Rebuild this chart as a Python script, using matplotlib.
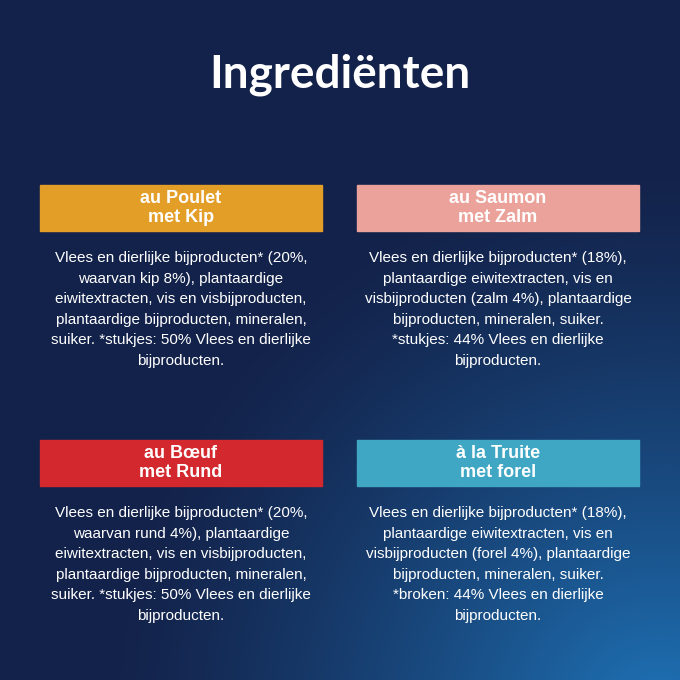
import numpy as np
import matplotlib.pyplot as plt
from matplotlib.patches import Rectangle

title = "Ingrediënten"
headers = ["au Poulet\nmet Kip", "au Saumon\nmet Zalm", "au Bœuf\nmet Rund", "à la Truite\nmet forel"]
header_colors = ["#E39E28", "#EBA29B", "#D3282E", "#3FA7C4"]
bodies = [
    "Vlees en dierlijke bijproducten* (20%,\nwaarvan kip 8%), plantaardige\neiwitextracten, vis en visbijproducten,\nplantaardige bijproducten, mineralen,\nsuiker. *stukjes: 50% Vlees en dierlijke\nbijproducten.",
    "Vlees en dierlijke bijproducten* (18%),\nplantaardige eiwitextracten, vis en\nvisbijproducten (zalm 4%), plantaardige\nbijproducten, mineralen, suiker.\n*stukjes: 44% Vlees en dierlijke\nbijproducten.",
    "Vlees en dierlijke bijproducten* (20%,\nwaarvan rund 4%), plantaardige\neiwitextracten, vis en visbijproducten,\nplantaardige bijproducten, mineralen,\nsuiker. *stukjes: 50% Vlees en dierlijke\nbijproducten.",
    "Vlees en dierlijke bijproducten* (18%),\nplantaardige eiwitextracten, vis en\nvisbijproducten (forel 4%), plantaardige\nbijproducten, mineralen, suiker.\n*broken: 44% Vlees en dierlijke\nbijproducten.",
]
box_x = [40, 357, 40, 357]
box_y = [185, 185, 440, 440]

fig = plt.figure(figsize=(6.8, 6.8), dpi=100)
ax = fig.add_axes([0, 0, 1, 1])
ax.set_xlim(0, 680)
ax.set_ylim(680, 0)
ax.axis("off")

# background: dark navy with lighter blue glow in the lower right
yy, xx = np.mgrid[0:680, 0:680]
d = np.clip(1 - np.hypot(xx - 660, yy - 720) / 560, 0, 1) ** 1.3
dark = np.array([0x13, 0x22, 0x4A]) / 255
light = np.array([0x1F, 0x74, 0xB8]) / 255
img = dark * (1 - d[..., None]) + light * d[..., None]
ax.imshow(img, extent=(0, 680, 680, 0), zorder=0)

ax.text(340, 75, title, color="white", fontsize=33, fontweight="bold",
        ha="center", va="center", family="Lato")

for i in range(4):
    ax.add_patch(Rectangle((box_x[i], box_y[i]), 282, 46, color=header_colors[i], zorder=1))
    ax.text(box_x[i] + 141, box_y[i] + 23, headers[i], color="white",
            fontsize=13, fontweight="bold", ha="center", va="center",
            linespacing=1.15, family="Liberation Sans", zorder=2)
    ax.text(box_x[i] + 141, box_y[i] + 66, bodies[i], color="white", fontsize=11,
            ha="center", va="top", linespacing=1.6, family="Liberation Sans", zorder=2)

fig.savefig("out.png", dpi=100)
